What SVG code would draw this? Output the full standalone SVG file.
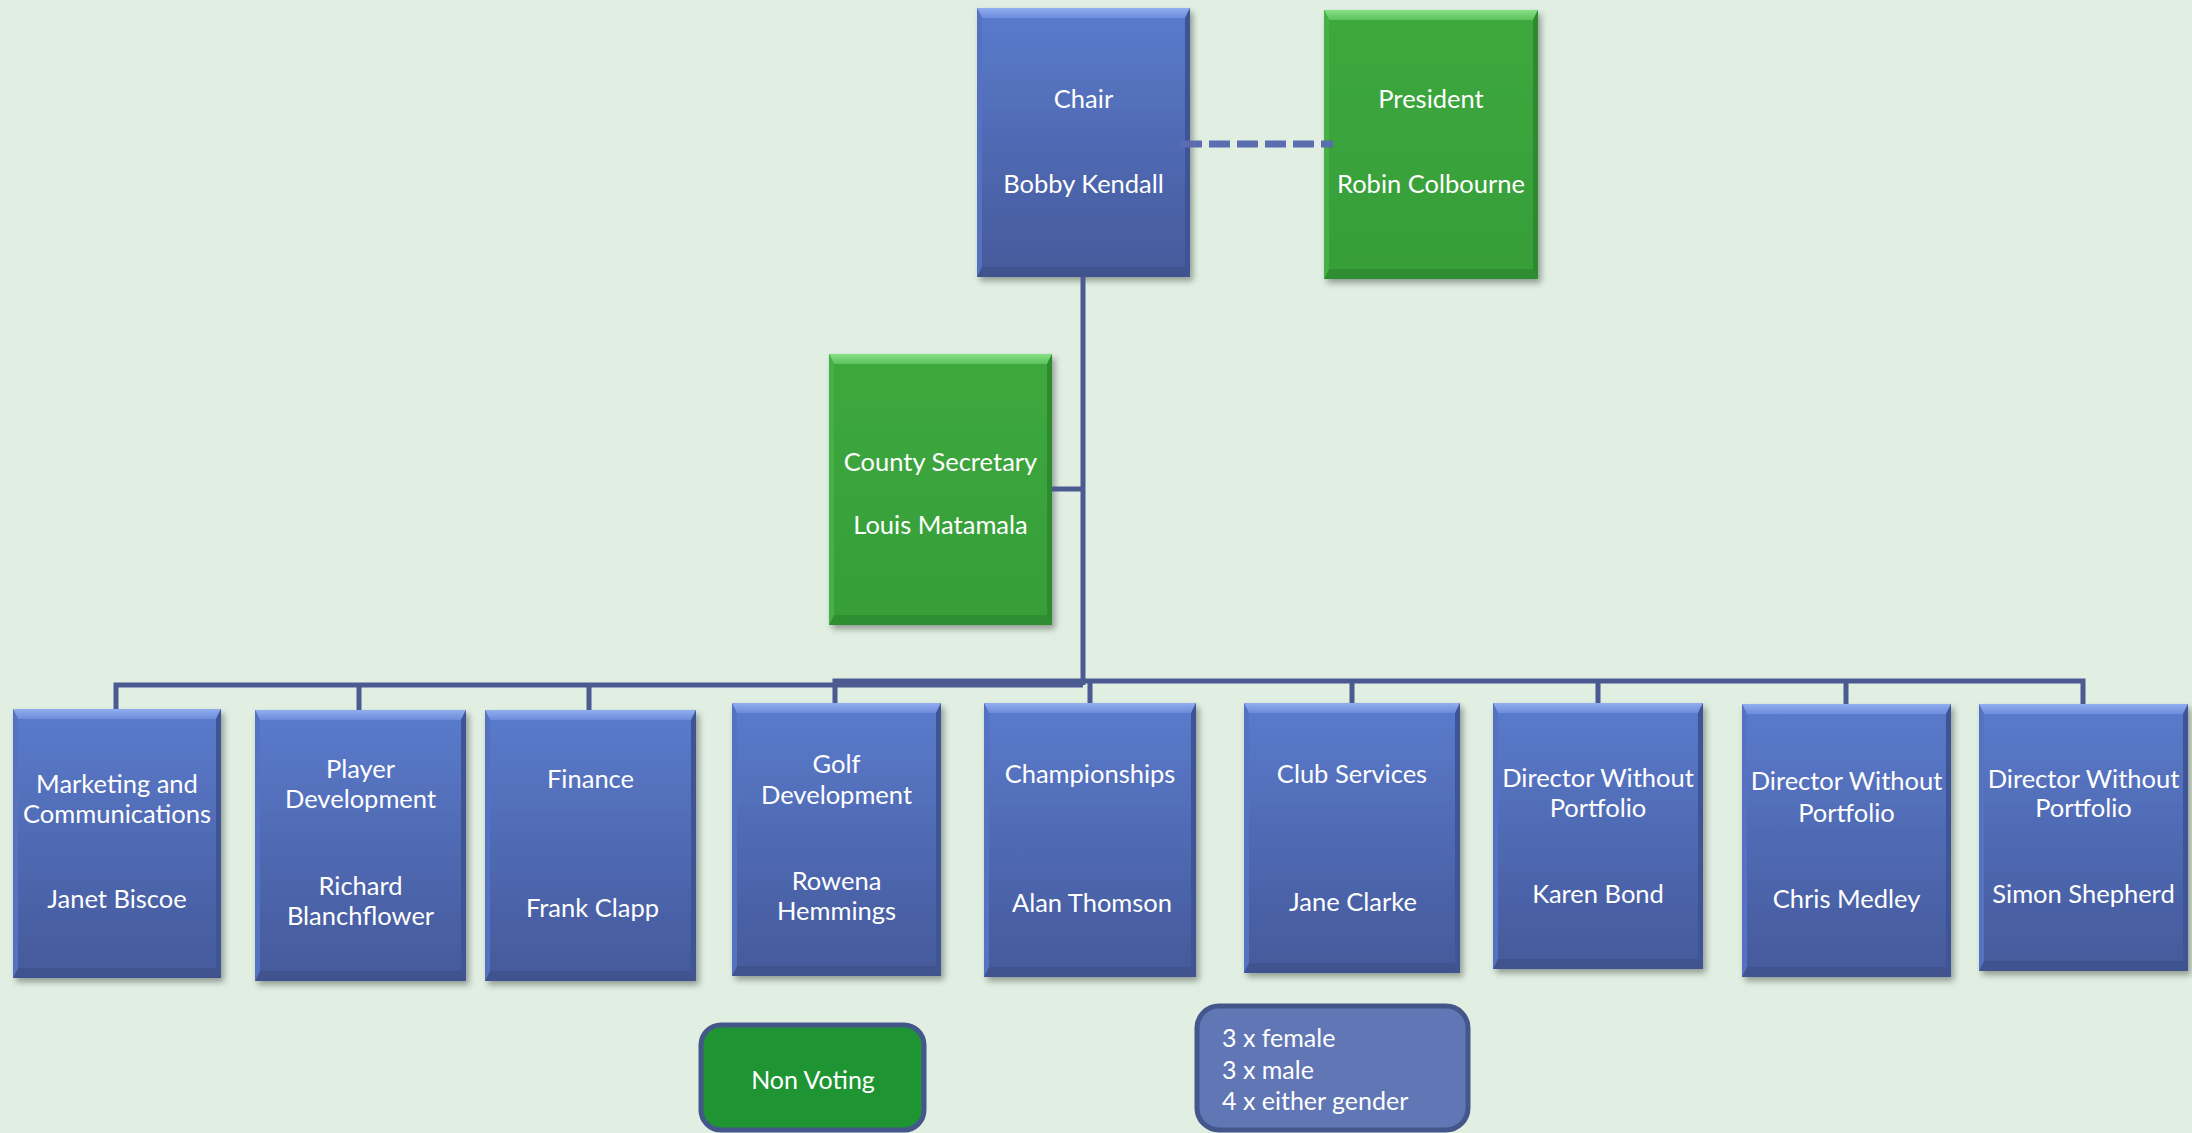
<svg xmlns="http://www.w3.org/2000/svg" width="2192" height="1133" viewBox="0 0 2192 1133">
<defs>
<linearGradient id="gBlue" x1="0" y1="0" x2="0" y2="1"><stop offset="0" stop-color="#5A7BCC"/><stop offset="1" stop-color="#45599A"/></linearGradient>
<linearGradient id="gBlueTop" x1="0" y1="0" x2="0" y2="1"><stop offset="0" stop-color="#92AEF0"/><stop offset="1" stop-color="#6C8BDA"/></linearGradient>
<linearGradient id="gGreen" x1="0" y1="0" x2="0" y2="1"><stop offset="0" stop-color="#3DA83E"/><stop offset="1" stop-color="#379E38"/></linearGradient>
<linearGradient id="gGreenTop" x1="0" y1="0" x2="0" y2="1"><stop offset="0" stop-color="#86E086"/><stop offset="1" stop-color="#5CC35D"/></linearGradient>
<filter id="sh" x="-10%" y="-10%" width="125%" height="125%"><feDropShadow dx="3" dy="4" stdDeviation="3" flood-color="#000" flood-opacity="0.35"/></filter>
</defs>
<style>
.bg{fill:#E0EFE2}
.bb{fill:url(#gBlue)}
.bt{fill:url(#gBlueTop)}
.bl{fill:#5572C2}
.br{fill:#3F5494}
.bd{fill:#40538F}
.gb{fill:url(#gGreen)}
.gt{fill:url(#gGreenTop)}
.gl{fill:#45B046}
.gr{fill:#2C8B2E}
.gd{fill:#2F8E31}
text{font-family:Lato,"Liberation Sans",sans-serif;fill:#FFFFFF}
.t{font-size:25.5px;text-anchor:middle}
.s{font-size:25px}
.c{fill:none;stroke:#4B5B91;stroke-width:5}
.d{fill:none;stroke:#5A6DAE;stroke-width:7;stroke-dasharray:21 7}
</style>
<rect class="bg" x="0" y="0" width="2192" height="1133"/>

<g id="chair" transform="translate(977,8)">
<rect class="bb" width="213" height="269" filter="url(#sh)"/>
<polygon class="bt" points="0,0 213,0 208,10 5,10"/>
<polygon class="bd" points="0,269 213,269 208,259 5,259"/>
<polygon class="bl" points="0,0 5,10 5,259 0,269"/>
<polygon class="br" points="213,0 208,10 208,259 213,269"/>
<text class="t" x="106.5" y="100">Chair</text>
<text class="t" x="106.5" y="185">Bobby Kendall</text>
</g>

<g id="president" transform="translate(1324,10)">
<rect class="gb" width="214" height="269" filter="url(#sh)"/>
<polygon class="gt" points="0,0 214,0 209,10 5,10"/>
<polygon class="gd" points="0,269 214,269 209,259 5,259"/>
<polygon class="gl" points="0,0 5,10 5,259 0,269"/>
<polygon class="gr" points="214,0 209,10 209,259 214,269"/>
<text class="t" x="107" y="98">President</text>
<text class="t" x="107" y="183">Robin Colbourne</text>
</g>

<g id="secretary" transform="translate(829,354)">
<rect class="gb" width="223" height="271" filter="url(#sh)"/>
<polygon class="gt" points="0,0 223,0 218,10 5,10"/>
<polygon class="gd" points="0,271 223,271 218,261 5,261"/>
<polygon class="gl" points="0,0 5,10 5,261 0,271"/>
<polygon class="gr" points="223,0 218,10 218,261 223,271"/>
<text class="t" x="111.5" y="117">County Secretary</text>
<text class="t" x="111.5" y="180">Louis Matamala</text>
</g>

<g id="marketing" transform="translate(13,709)">
<rect class="bb" width="208" height="269" filter="url(#sh)"/>
<polygon class="bt" points="0,0 208,0 203,10 5,10"/>
<polygon class="bd" points="0,269 208,269 203,259 5,259"/>
<polygon class="bl" points="0,0 5,10 5,259 0,269"/>
<polygon class="br" points="208,0 203,10 203,259 208,269"/>
<text class="t" x="104" y="84">Marketing and</text>
<text class="t" x="104" y="114">Communications</text>
<text class="t" x="104" y="199">Janet Biscoe</text>
</g>

<g id="player" transform="translate(255,710)">
<rect class="bb" width="211" height="271" filter="url(#sh)"/>
<polygon class="bt" points="0,0 211,0 206,10 5,10"/>
<polygon class="bd" points="0,271 211,271 206,261 5,261"/>
<polygon class="bl" points="0,0 5,10 5,261 0,271"/>
<polygon class="br" points="211,0 206,10 206,261 211,271"/>
<text class="t" x="105.5" y="68">Player</text>
<text class="t" x="105.5" y="98">Development</text>
<text class="t" x="105.5" y="185">Richard</text>
<text class="t" x="105.5" y="215">Blanchflower</text>
</g>

<g id="finance" transform="translate(485,710)">
<rect class="bb" width="211" height="271" filter="url(#sh)"/>
<polygon class="bt" points="0,0 211,0 206,10 5,10"/>
<polygon class="bd" points="0,271 211,271 206,261 5,261"/>
<polygon class="bl" points="0,0 5,10 5,261 0,271"/>
<polygon class="br" points="211,0 206,10 206,261 211,271"/>
<text class="t" x="105.5" y="78">Finance</text>
<text class="t" x="107.5" y="207">Frank Clapp</text>
</g>

<g id="golf" transform="translate(732,703)">
<rect class="bb" width="209" height="273" filter="url(#sh)"/>
<polygon class="bt" points="0,0 209,0 204,10 5,10"/>
<polygon class="bd" points="0,273 209,273 204,263 5,263"/>
<polygon class="bl" points="0,0 5,10 5,263 0,273"/>
<polygon class="br" points="209,0 204,10 204,263 209,273"/>
<text class="t" x="104.5" y="70">Golf</text>
<text class="t" x="104.5" y="101">Development</text>
<text class="t" x="104.5" y="187">Rowena</text>
<text class="t" x="104.5" y="217">Hemmings</text>
</g>

<g id="championships" transform="translate(984,703)">
<rect class="bb" width="212" height="274" filter="url(#sh)"/>
<polygon class="bt" points="0,0 212,0 207,10 5,10"/>
<polygon class="bd" points="0,274 212,274 207,264 5,264"/>
<polygon class="bl" points="0,0 5,10 5,264 0,274"/>
<polygon class="br" points="212,0 207,10 207,264 212,274"/>
<text class="t" x="106" y="80">Championships</text>
<text class="t" x="108" y="209">Alan Thomson</text>
</g>

<g id="club" transform="translate(1244,703)">
<rect class="bb" width="216" height="270" filter="url(#sh)"/>
<polygon class="bt" points="0,0 216,0 211,10 5,10"/>
<polygon class="bd" points="0,270 216,270 211,260 5,260"/>
<polygon class="bl" points="0,0 5,10 5,260 0,270"/>
<polygon class="br" points="216,0 211,10 211,260 216,270"/>
<text class="t" x="108" y="80">Club Services</text>
<text class="t" x="109" y="208">Jane Clarke</text>
</g>

<g id="karen" transform="translate(1493,703)">
<rect class="bb" width="210" height="266" filter="url(#sh)"/>
<polygon class="bt" points="0,0 210,0 205,10 5,10"/>
<polygon class="bd" points="0,266 210,266 205,256 5,256"/>
<polygon class="bl" points="0,0 5,10 5,256 0,266"/>
<polygon class="br" points="210,0 205,10 205,256 210,266"/>
<text class="t" x="105" y="84">Director Without</text>
<text class="t" x="105" y="114">Portfolio</text>
<text class="t" x="105" y="200">Karen Bond</text>
</g>

<g id="chris" transform="translate(1742,704)">
<rect class="bb" width="209" height="273" filter="url(#sh)"/>
<polygon class="bt" points="0,0 209,0 204,10 5,10"/>
<polygon class="bd" points="0,273 209,273 204,263 5,263"/>
<polygon class="bl" points="0,0 5,10 5,263 0,273"/>
<polygon class="br" points="209,0 204,10 204,263 209,273"/>
<text class="t" x="104.5" y="86">Director Without</text>
<text class="t" x="104.5" y="118">Portfolio</text>
<text class="t" x="104.5" y="204">Chris Medley</text>
</g>

<g id="simon" transform="translate(1979,704)">
<rect class="bb" width="209" height="267" filter="url(#sh)"/>
<polygon class="bt" points="0,0 209,0 204,10 5,10"/>
<polygon class="bd" points="0,267 209,267 204,257 5,257"/>
<polygon class="bl" points="0,0 5,10 5,257 0,267"/>
<polygon class="br" points="209,0 204,10 204,257 209,267"/>
<text class="t" x="104.5" y="84">Director Without</text>
<text class="t" x="104.5" y="113">Portfolio</text>
<text class="t" x="104.5" y="199">Simon Shepherd</text>
</g>

<g id="nonvoting">
<rect x="701" y="1025" width="223" height="105" rx="20" fill="#1E9433" stroke="#44578A" stroke-width="5"/>
<text class="s" x="813" y="1089" text-anchor="middle">Non Voting</text>
</g>

<g id="gender">
<rect x="1197" y="1006" width="271" height="124" rx="22" fill="#6076B5" stroke="#44578A" stroke-width="5"/>
<text class="s" x="1222" y="1047">3 x female</text>
<text class="s" x="1222" y="1079">3 x male</text>
<text class="s" x="1222" y="1110">4 x either gender</text>
</g>

<g id="connectors">
<path class="d" d="M1181,144 H1333"/>
<path class="c" d="M1083,277 V685"/>
<path class="c" d="M1052,489 H1083"/>
<path class="c" d="M116,709 V685 H1083"/>
<path class="c" d="M359,685 V710"/>
<path class="c" d="M589,685 V710"/>
<path class="c" d="M835,703 V681 H2083 V704"/>
<path class="c" d="M1090,681 V703"/>
<path class="c" d="M1352,681 V703"/>
<path class="c" d="M1598,681 V703"/>
<path class="c" d="M1846,681 V704"/>
</g>
</svg>
